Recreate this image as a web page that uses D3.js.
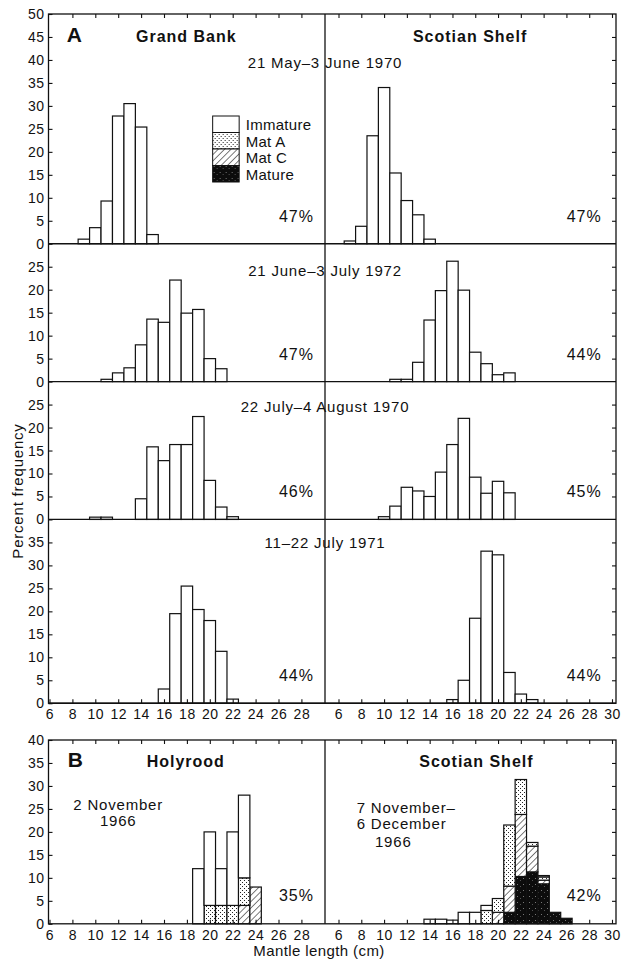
<!DOCTYPE html>
<html>
<head>
<meta charset="utf-8">
<script src="https://cdn.jsdelivr.net/npm/d3@7"></script>
<style>
  body { margin: 0; background: #fff; }
  svg { display: block; font-family: 'Liberation Sans', Arial, Helvetica, sans-serif; }
  .bar { stroke: #111; stroke-width: 1.2; }
  .frame { stroke: #111; stroke-width: 1.3; fill: none; }
  .axis line { stroke: #111; stroke-width: 1.1; }
  .axis text { font-family: 'Liberation Sans', Arial, sans-serif; font-size: 14px; fill: #111; letter-spacing: 0.5px; }
  .note { font-size: 15px; fill: #111; letter-spacing: 0.8px; }
  .pct { font-size: 16px; fill: #111; letter-spacing: 1px; }
  .title { font-size: 16px; font-weight: bold; fill: #111; letter-spacing: 1px; }
  .letter { font-size: 21px; font-weight: bold; fill: #111; }
</style>
</head>
<body>
<div id="chart"></div>
<script>
// ---- data: percent frequency by mantle length class (cm) ----
// A, 21 May - 3 June 1970
const gbMay70Len = [9, 10, 11, 12, 13, 14, 15];
const gbMay70Pct = [1, 3.5, 9.3, 27.8, 30.5, 25.4, 2];
const ssMay70Len = [7, 8, 9, 10, 11, 12, 13, 14];
const ssMay70Pct = [0.6, 3.8, 23.5, 34, 15.4, 9.4, 6.3, 1];
// A, 21 June - 3 July 1972
const gbJun72Len = [11, 12, 13, 14, 15, 16, 17, 18, 19, 20, 21];
const gbJun72Pct = [0.5, 1.9, 3, 8, 13.6, 12.9, 22.1, 14.9, 15.7, 5, 2.8];
const ssJun72Len = [11, 12, 13, 14, 15, 16, 17, 18, 19, 20, 21];
const ssJun72Pct = [0.5, 0.5, 4.2, 13.4, 19.8, 26.2, 19.9, 6.4, 3.9, 1.5, 1.9];
// A, 22 July - 4 August 1970
const gbJul70Len = [10, 11, 14, 15, 16, 17, 18, 19, 20, 21, 22];
const gbJul70Pct = [0.5, 0.5, 4.5, 15.8, 12.8, 16.3, 16.3, 22.4, 8.5, 2.7, 0.6];
const ssJul70Len = [10, 11, 12, 13, 14, 15, 16, 17, 18, 19, 20, 21];
const ssJul70Pct = [0.6, 2.9, 7, 6.2, 5, 10.3, 16.3, 22, 9.2, 5.7, 8.3, 5.8];
// A, 11-22 July 1971
const gbJul71Len = [16, 17, 18, 19, 20, 21, 22];
const gbJul71Pct = [3.1, 19.5, 25.5, 20.4, 18, 11.3, 0.9];
const ssJul71Len = [16, 17, 18, 19, 20, 21, 22, 23];
const ssJul71Pct = [0.8, 5, 18.5, 33.1, 32.3, 6.7, 2, 0.8];

// B, maturity stages (stacked from the bottom: mature, mat C, mat A, immature)
const holyLen = [19, 20, 21, 22, 23, 24];
const holyMature = [0, 0, 0, 0, 0, 0];
const holyMatC = [0, 0, 0, 0, 4, 8];
const holyMatA = [0, 4, 4, 4, 6, 0];
const holyImm = [12, 16, 8, 16, 18, 0];

const ssNovLen = [14, 15, 16, 17, 18, 19, 20, 21, 22, 23, 24, 25, 26];
const ssNovMature = [0, 0, 0, 0, 0, 0, 0, 2.5, 10.3, 11.3, 8.7, 2.5, 1.2];
const ssNovMatC = [0, 0, 0, 0, 0, 0, 2.5, 5.7, 13.5, 5.6, 0.8, 0, 0];
const ssNovMatA = [0, 0, 0, 0, 0, 2.9, 3, 13.3, 7.6, 0.8, 0.7, 0, 0];
const ssNovImm = [1, 1, 0.8, 2.5, 2.5, 1.1, 0, 0, 0, 0, 0.3, 0, 0];

// ---- labels ----
const rowDates = ['21 May\u20133 June 1970', '21 June\u20133 July 1972', '22 July\u20134 August 1970', '11\u201322 July 1971'];
const gbPctLabels = ['47%', '47%', '46%', '44%'];
const ssPctLabels = ['47%', '44%', '45%', '44%'];
const bPctLabels = ['35%', '42%'];
const stageKeys = ['mature', 'matC', 'matA', 'imm'];
const stageNames = ['Immature', 'Mat A', 'Mat C', 'Mature'];
const xTicksLeft = d3.range(6, 29, 2);
const xTicksRight = d3.range(6, 31, 2);

// ---- layout ----
const W = 622, H = 963;
const frameL = 48.5, frameM = 325, frameR = 616;
const unit = 4.595;
const topA = 14, topB = 740;
const rowMax = [50, 30, 30, 40];
const rowDateAt = [38.3, 23, 23.3, 33.8];

const xLeft = d3.scaleLinear().domain([6, 30]).range([49.5, 324.3]);
const xRight = d3.scaleLinear().domain([6, 30]).range([338.5, 612]);

const svg = d3.select('#chart').append('svg')
   .attr('width', W)
   .attr('height', H);

svg.append('rect').attr('width', W).attr('height', H).attr('fill', '#fff');

// ---- fill patterns ----
const defs = svg.append('defs');

const dots = defs.append('pattern')
   .attr('id', 'dots')
   .attr('width', 4).attr('height', 4)
   .attr('patternUnits', 'userSpaceOnUse');
dots.append('rect').attr('width', 4).attr('height', 4).attr('fill', '#fff');
dots.append('rect').attr('width', 1).attr('height', 1).attr('fill', '#222');
dots.append('rect').attr('x', 2).attr('y', 2).attr('width', 1).attr('height', 1).attr('fill', '#222');

const hatch = defs.append('pattern')
   .attr('id', 'hatch')
   .attr('width', 4.5).attr('height', 4.5)
   .attr('patternUnits', 'userSpaceOnUse')
   .attr('patternTransform', 'rotate(45)');
hatch.append('rect').attr('width', 4.5).attr('height', 4.5).attr('fill', '#fff');
hatch.append('line').attr('x1', 0).attr('y1', 0).attr('x2', 0).attr('y2', 4.5)
   .attr('stroke', '#111').attr('stroke-width', 1.1);

const speck = defs.append('pattern')
   .attr('id', 'speck')
   .attr('width', 6).attr('height', 6)
   .attr('patternUnits', 'userSpaceOnUse');
speck.append('rect').attr('width', 6).attr('height', 6).attr('fill', '#0c0c0c');
speck.append('rect').attr('x', 1).attr('y', 2).attr('width', 1).attr('height', 1).attr('fill', '#777');
speck.append('rect').attr('x', 4).attr('y', 4).attr('width', 1).attr('height', 1).attr('fill', '#555');

const stageFill = { imm: '#fff', matA: 'url(#dots)', matC: 'url(#hatch)', mature: 'url(#speck)' };

// ---- helpers ----
function drawBars(g, x, y, len, pct) {
   g.append('g').selectAll('rect')
      .data(d3.zip(len, pct))
      .join('rect')
         .attr('class', 'bar')
         .attr('fill', '#fff')
         .attr('x', d => x(d[0] - 0.5))
         .attr('width', d => x(d[0] + 0.5) - x(d[0] - 0.5))
         .attr('y', d => y(d[1]))
         .attr('height', d => y(0) - y(d[1]));
}

function drawStack(g, x, y, len, mature, matC, matA, imm) {
   const table = len.map((l, i) => ({ len: l, mature: mature[i], matC: matC[i], matA: matA[i], imm: imm[i] }));
   const series = d3.stack().keys(stageKeys)(table);
   g.append('g').selectAll('g')
      .data(series)
      .join('g')
         .attr('fill', d => stageFill[d.key])
      .selectAll('rect')
      .data(d => d.filter(s => s[1] > s[0]))
      .join('rect')
         .attr('class', 'bar')
         .attr('x', d => x(d.data.len - 0.5))
         .attr('width', d => x(d.data.len + 0.5) - x(d.data.len - 0.5))
         .attr('y', d => y(d[1]))
         .attr('height', d => y(d[0]) - y(d[1]));
}

function yAxes(g, y, max, labelTop) {
   const vals = d3.range(0, labelTop ? max + 1 : max, 5);
   g.append('g')
      .attr('class', 'axis')
      .attr('transform', `translate(${frameL},0)`)
      .call(d3.axisLeft(y).tickValues(vals).tickSize(-4).tickPadding(4))
      .call(a => a.select('.domain').remove());
   g.append('g')
      .attr('class', 'axis')
      .attr('transform', `translate(${frameR},0)`)
      .call(d3.axisRight(y).tickValues(d3.range(5, max, 5)).tickSize(-4).tickFormat(''))
      .call(a => a.select('.domain').remove());
}

function xAxes(g, yPos, withLabels) {
   [[xLeft, xTicksLeft], [xRight, xTicksRight]].forEach(([x, ticks]) => {
      const ax = withLabels === 'top'
         ? d3.axisTop(x).tickValues(ticks.filter(t => t > 6 || x === xRight)).tickSize(-4).tickFormat('')
         : d3.axisBottom(x).tickValues(ticks).tickSize(-4).tickPadding(6);
      g.append('g')
         .attr('class', 'axis')
         .attr('transform', `translate(0,${yPos})`)
         .call(ax)
         .call(a => a.select('.domain').remove());
   });
}

// ---- panel A ----
const gA = svg.append('g');
const rowData = [
   [gbMay70Len, gbMay70Pct, ssMay70Len, ssMay70Pct],
   [gbJun72Len, gbJun72Pct, ssJun72Len, ssJun72Pct],
   [gbJul70Len, gbJul70Pct, ssJul70Len, ssJul70Pct],
   [gbJul71Len, gbJul71Pct, ssJul71Len, ssJul71Pct]
];

let rowTop = topA;
const rowBases = [];
rowMax.forEach((max, i) => {
   const base = rowTop + max * unit;
   rowBases.push(base);
   const y = d3.scaleLinear().domain([0, max]).range([base, rowTop]);
   const [gl, gp, sl, sp] = rowData[i];

   drawBars(gA, xLeft, y, gl, gp);
   drawBars(gA, xRight, y, sl, sp);
   yAxes(gA, y, max, i === 0);

   gA.append('text')
      .attr('class', 'note')
      .attr('x', frameM)
      .attr('y', y(rowDateAt[i]))
      .attr('text-anchor', 'middle')
      .text(rowDates[i]);

   gA.append('text')
      .attr('class', 'pct')
      .attr('x', xLeft(29.1))
      .attr('y', base - 22)
      .attr('text-anchor', 'end')
      .text(gbPctLabels[i]);

   gA.append('text')
      .attr('class', 'pct')
      .attr('x', xRight(29.1))
      .attr('y', base - 22)
      .attr('text-anchor', 'end')
      .text(ssPctLabels[i]);

   gA.append('line')
      .attr('class', 'frame')
      .attr('x1', frameL).attr('x2', frameR)
      .attr('y1', base).attr('y2', base);

   rowTop = base;
});
const bottomA = rowBases[rowBases.length - 1];

gA.append('rect')
   .attr('class', 'frame')
   .attr('x', frameL).attr('y', topA)
   .attr('width', frameR - frameL).attr('height', bottomA - topA);
gA.append('line')
   .attr('class', 'frame')
   .attr('x1', frameM).attr('x2', frameM)
   .attr('y1', topA).attr('y2', bottomA);

xAxes(gA, topA, 'top');
xAxes(gA, bottomA, true);

gA.append('text').attr('class', 'letter').attr('x', xLeft(7.5)).attr('y', topA + 28).text('A');
gA.append('text').attr('class', 'title').attr('x', xLeft(17.95)).attr('y', topA + 27.5)
   .attr('text-anchor', 'middle').text('Grand Bank');
gA.append('text').attr('class', 'title').attr('x', xRight(17.55)).attr('y', topA + 27.5)
   .attr('text-anchor', 'middle').text('Scotian Shelf');

// legend
const legend = gA.append('g')
   .attr('transform', `translate(${xLeft(20.25)},${topA + 102})`);
const legendFills = [stageFill.imm, stageFill.matA, stageFill.matC, stageFill.mature];
legend.selectAll('rect')
   .data(stageNames)
   .join('rect')
      .attr('x', 0)
      .attr('y', (d, i) => i * 16.5)
      .attr('width', 26.5)
      .attr('height', 16.5)
      .attr('fill', (d, i) => legendFills[i])
      .attr('stroke', '#111')
      .attr('stroke-width', 1);
legend.selectAll('text')
   .data(stageNames)
   .join('text')
      .attr('class', 'note')
      .style('letter-spacing', '0.3px')
      .attr('x', 33)
      .attr('y', (d, i) => i * 16.5 + 14)
      .text(d => d);

// y label
svg.append('text')
   .attr('class', 'note')
   .attr('transform', 'translate(23,491) rotate(-90)')
   .attr('text-anchor', 'middle')
   .text('Percent frequency');

// ---- panel B ----
const gB = svg.append('g');
const maxB = 40;
const bottomB = topB + maxB * unit;
const yB = d3.scaleLinear().domain([0, maxB]).range([bottomB, topB]);

drawStack(gB, xLeft, yB, holyLen, holyMature, holyMatC, holyMatA, holyImm);
drawStack(gB, xRight, yB, ssNovLen, ssNovMature, ssNovMatC, ssNovMatA, ssNovImm);
yAxes(gB, yB, maxB, true);

gB.append('rect')
   .attr('class', 'frame')
   .attr('x', frameL).attr('y', topB)
   .attr('width', frameR - frameL).attr('height', bottomB - topB);
gB.append('line')
   .attr('class', 'frame')
   .attr('x1', frameM).attr('x2', frameM)
   .attr('y1', topB).attr('y2', bottomB);

xAxes(gB, topB, 'top');
xAxes(gB, bottomB, true);

gB.append('text').attr('class', 'letter').attr('x', xLeft(7.6)).attr('y', topB + 27).text('B');
gB.append('text').attr('class', 'title').attr('x', xLeft(17.9)).attr('y', topB + 27.3)
   .attr('text-anchor', 'middle').text('Holyrood');
gB.append('text').attr('class', 'title').attr('x', xRight(18.1)).attr('y', topB + 27.3)
   .attr('text-anchor', 'middle').text('Scotian Shelf');

gB.append('text').attr('class', 'pct').attr('x', xLeft(29.1)).attr('y', bottomB - 23)
   .attr('text-anchor', 'end').text(bPctLabels[0]);
gB.append('text').attr('class', 'pct').attr('x', xRight(29.1)).attr('y', bottomB - 23)
   .attr('text-anchor', 'end').text(bPctLabels[1]);

const holyNote = gB.append('text').attr('class', 'note').attr('text-anchor', 'middle');
holyNote.append('tspan').attr('x', xLeft(12)).attr('y', yB(24.8)).text('2 November');
holyNote.append('tspan').attr('x', xLeft(12)).attr('y', yB(21.2)).text('1966');

const ssNote = gB.append('text').attr('class', 'note');
ssNote.append('tspan').attr('x', xRight(7.6)).attr('y', yB(24.2)).text('7 November\u2013');
ssNote.append('tspan').attr('x', xRight(7.6)).attr('y', yB(20.6)).text('6 December');
ssNote.append('tspan').attr('x', xRight(9.2)).attr('y', yB(16.7)).text('1966');

svg.append('text')
   .attr('class', 'note')
   .style('letter-spacing', '0.4px')
   .attr('x', 319)
   .attr('y', 956)
   .attr('text-anchor', 'middle')
   .text('Mantle length (cm)');
</script>
</body>
</html>
